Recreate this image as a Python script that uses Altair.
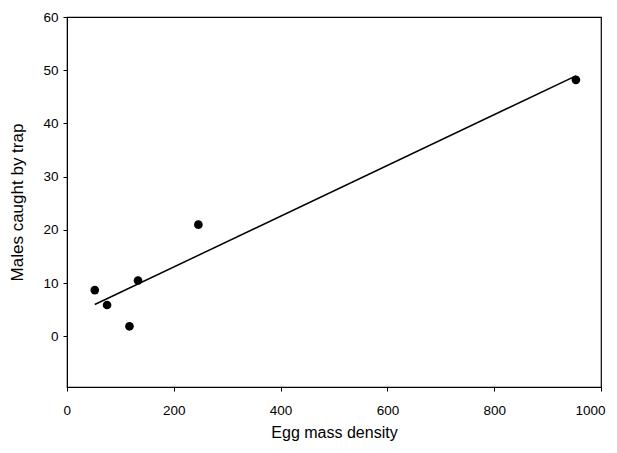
import altair as alt
import pandas as pd

egg_density = [52, 75, 117, 133, 246, 953]
males_caught = [8.7, 5.9, 1.9, 10.5, 21.0, 48.2]

df = pd.DataFrame({"x": egg_density, "y": males_caught})

xs = alt.Scale(domain=[0, 1000], nice=False, zero=False)
ys = alt.Scale(domain=[-9.5, 60], nice=False, zero=False)

x_axis = alt.Axis(values=[0, 200, 400, 600, 800, 1000], format="d", grid=False, tickSize=4,
                  labelFlush=True, labelFlushOffset=4, labelPadding=12, titlePadding=8,
                  labelFontSize=13.5, titleFontSize=16,
                  labelFont="Liberation Sans", titleFont="Liberation Sans",
                  titleFontWeight="normal", domainColor="black", tickColor="black",
                  labelColor="black", titleColor="black")
y_axis = alt.Axis(values=[0, 10, 20, 30, 40, 50, 60], grid=False, tickSize=4,
                  labelFlush=False, labelPadding=5, titlePadding=16,
                  labelFontSize=13.5, titleFontSize=17,
                  labelFont="Liberation Sans", titleFont="Liberation Sans",
                  titleFontWeight="normal", domainColor="black", tickColor="black",
                  labelColor="black", titleColor="black")

base = alt.Chart(df)

points = base.mark_circle(color="black", size=75, opacity=1).encode(
    x=alt.X("x:Q", scale=xs, axis=x_axis, title="Egg mass density"),
    y=alt.Y("y:Q", scale=ys, axis=y_axis, title="Males caught by trap"),
)

line = base.transform_regression("x", "y").mark_line(color="black", strokeWidth=1.5).encode(
    x=alt.X("x:Q", scale=xs),
    y=alt.Y("y:Q", scale=ys),
)

chart = alt.layer(line, points).properties(
    width=534, height=370,
    autosize=alt.AutoSizeParams(type="none"),
    padding={"left": 59, "top": 9, "right": 8, "bottom": 57},
    background="white",
).configure_view(stroke="black", strokeWidth=1.2)

chart.save("out.html", embed_options={"renderer": "svg", "actions": False})
